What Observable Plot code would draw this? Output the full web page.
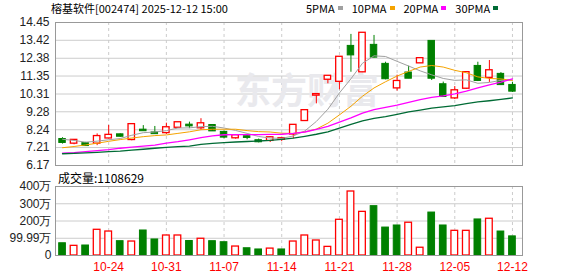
<!DOCTYPE html>
<html><head><meta charset="utf-8">
<script src="https://cdn.jsdelivr.net/npm/d3@7"></script>
<script src="https://cdn.jsdelivr.net/npm/@observablehq/plot@0.6"></script>
<style>
body{margin:0;background:#fff;}
#wrap{position:relative;width:578px;height:276px;overflow:hidden;font-family:"Noto Sans CJK SC",sans-serif;color:#000;}
.abs{position:absolute;white-space:nowrap;}
#legend{display:flex;align-items:center;font-size:11px;line-height:14px;height:14px;}
#legend .it{display:flex;align-items:center;margin-right:9px;}
#legend .sq{display:inline-block;width:5px;height:4px;margin-left:3px;}
svg{position:absolute;left:0;}
</style></head><body><div id="wrap"></div>
<script>
const title = "榕基软件[002474] 2025-12-12 15:00";
const volLabel = "成交量:1108629";
const watermark = "东方财富";
const dates = ["10-20","10-21","10-22","10-23","10-24","10-27","10-28","10-29","10-30","10-31","11-03","11-04","11-05","11-06","11-07","11-10","11-11","11-12","11-13","11-14","11-17","11-18","11-19","11-20","11-21","11-24","11-25","11-26","11-27","11-28","12-01","12-02","12-03","12-04","12-05","12-08","12-09","12-10","12-11","12-12"];
const tickDates = ["10-24","10-31","11-07","11-14","11-21","11-28","12-05","12-12"];
const open  = [7.67,7.47,7.43,7.47,7.77,7.94,7.68,8.21,8.05,8.08,8.39,8.50,8.36,8.48,8.08,7.78,7.83,7.60,7.63,7.69,8.00,8.78,10.25,11.17,11.05,13.06,11.60,13.12,12.02,10.67,11.52,12.12,13.35,10.84,10.09,10.65,11.90,11.28,11.44,10.80];
const close = [7.51,7.62,7.33,7.84,7.91,7.87,8.53,8.19,8.02,8.35,8.64,8.47,8.58,8.18,7.82,7.89,7.80,7.55,7.77,7.72,8.49,9.34,10.27,11.33,12.43,12.58,13.82,12.45,11.20,11.03,11.23,12.35,11.23,10.17,10.49,11.54,11.10,11.65,10.86,10.48];
const high  = [7.78,7.62,7.51,8.00,8.49,8.00,8.53,8.48,8.43,8.62,8.66,8.68,8.88,8.52,8.16,7.96,7.96,7.70,7.85,7.76,8.49,9.34,10.27,11.33,12.48,13.76,13.82,13.70,12.15,11.40,11.92,12.36,13.35,11.00,10.74,11.58,12.15,12.25,11.55,10.99];
const low   = [7.41,7.37,7.27,7.32,7.72,7.80,7.60,8.18,8.00,7.97,8.38,8.30,8.22,8.14,7.72,7.70,7.66,7.48,7.50,7.55,7.72,8.78,9.74,10.90,10.55,11.57,11.55,12.40,11.13,10.48,11.20,12.11,11.09,10.12,9.99,10.57,11.03,10.98,10.80,10.40];
const volume = [71,56,58,149,139,83,81,145,93,116,116,84,97,83,77,52,42,35,40,35,81,116,87,50,207,371,253,286,162,174,190,45,249,174,143,143,209,213,139,110.86];
const volUp = [0,1,0,1,1,0,1,0,0,1,1,0,1,0,0,1,0,0,1,0,1,1,1,1,1,1,1,0,0,0,1,1,0,0,1,1,0,1,0,0];
const ma5  = [7.69,7.62,7.52,7.58,7.66,7.73,7.92,8.07,8.11,8.19,8.34,8.35,8.42,8.44,8.34,8.20,8.03,7.85,7.76,7.74,7.88,8.17,8.72,9.43,10.37,11.19,12.09,12.52,12.48,12.20,11.93,11.65,11.42,11.21,11.10,11.13,10.93,10.98,11.10,11.12];
const ma10 = [7.20,7.27,7.36,7.46,7.57,7.67,7.76,7.84,7.90,7.94,8.03,8.12,8.24,8.27,8.27,8.27,8.19,8.13,8.11,8.04,8.03,8.11,8.28,8.62,9.10,9.60,10.18,10.66,11.02,11.35,11.62,11.87,11.96,11.87,11.68,11.54,11.30,11.21,11.18,11.10];
const ma20 = [6.88,6.91,6.97,7.03,7.09,7.17,7.23,7.29,7.35,7.47,7.55,7.66,7.78,7.88,7.95,7.96,7.96,7.96,7.97,7.98,8.03,8.11,8.26,8.44,8.68,8.93,9.20,9.40,9.54,9.66,9.82,9.98,10.11,10.20,10.32,10.48,10.66,10.84,11.00,11.19];
const ma30 = [6.85,6.87,6.90,6.93,6.97,7.00,7.06,7.11,7.17,7.22,7.26,7.29,7.39,7.45,7.50,7.53,7.56,7.59,7.62,7.68,7.75,7.86,7.98,8.12,8.33,8.55,8.75,8.90,9.00,9.13,9.27,9.38,9.49,9.57,9.64,9.75,9.85,9.92,10.00,10.08];
const maNames = ["5PMA","10PMA","20PMA","30PMA"];
const maColors = ["#a0a0a0","#f5a300","#ff00ff","#006b35"];
const priceTicks = [6.17,7.21,8.24,9.28,10.31,11.35,12.38,13.42,14.45];
const volTicks = [0,99.99,200,300,400];
const volTickLabels = ["0","99.99万","200万","300万","400万"];

const RED = "#ff0000", GREEN = "#008000";
const idx = d3.range(dates.length);
const isUp = i => close[i] >= open[i];
const upIdx = idx.filter(isUp), dnIdx = idx.filter(i => !isUp(i));
const xDomain = [-0.61, 39.87];
const tickIdx = tickDates.map(d => dates.indexOf(d));
const grid = {stroke:"#cccccc", strokeOpacity:1};
const dashed = {stroke:"#cccccc", strokeOpacity:1, strokeDasharray:"3,3"};
const font = "'Liberation Sans', Arial, sans-serif";
const mas = [ma5, ma10, ma20, ma30];
const hw = 0.28;

const price = Plot.plot({
  width:578, height:170, marginTop:22, marginBottom:5, marginLeft:55, marginRight:56,
  style:{fontFamily:font, background:"transparent"},
  x:{domain:xDomain, axis:null},
  y:{domain:[6.17,14.45], axis:null},
  marks:[
    Plot.gridY(priceTicks, grid),
    Plot.gridX(tickIdx, dashed),
    Plot.text([watermark], {text:d=>d, frameAnchor:"middle", dx:18, dy:-2, fontSize:36, fontWeight:700, fill:"#e9e9ed", fontFamily:"'Noto Sans CJK SC'"}),
    Plot.ruleX(upIdx, {x:i=>i, y1:i=>low[i], y2:i=>high[i], stroke:RED}),
    Plot.ruleX(dnIdx, {x:i=>i, y1:i=>low[i], y2:i=>high[i], stroke:GREEN}),
    Plot.rect(upIdx, {x1:i=>i-hw, x2:i=>i+hw, y1:i=>open[i], y2:i=>close[i], fill:"white", stroke:RED, strokeWidth:1.3, insetTop:-0.6, insetBottom:-0.6}),
    Plot.rect(dnIdx, {x1:i=>i-hw, x2:i=>i+hw, y1:i=>open[i], y2:i=>close[i], fill:GREEN, stroke:GREEN, strokeWidth:1, insetTop:-0.6, insetBottom:-0.6}),
    ...mas.map((m,k) => Plot.line(idx, {x:i=>i, y:i=>m[i], stroke:maColors[k], strokeWidth:k<2?1:1.3})),
    Plot.frame({stroke:"#999"})
  ]
});

const priceLabels = Plot.plot({
  width:578, height:176, marginTop:22, marginBottom:11, marginLeft:55, marginRight:56,
  style:{fontFamily:font, background:"transparent"},
  x:{domain:xDomain, axis:null},
  y:{domain:[6.17,14.45], axis:null},
  marks:[
    Plot.text(priceTicks, {y:d=>d, text:d=>d.toFixed(2), frameAnchor:"left", textAnchor:"end", dx:-6, fontSize:12, fill:"#222"})
  ]
});

const vol = Plot.plot({
  width:578, height:106, marginTop:16, marginBottom:21, marginLeft:55, marginRight:56,
  style:{fontFamily:font, background:"transparent"},
  x:{domain:xDomain, axis:null},
  y:{domain:[0,400], axis:null},
  marks:[
    Plot.gridY(volTicks, grid),
    Plot.gridX(tickIdx, dashed),
    Plot.rect(idx.filter(i=>volUp[i]), {x1:i=>i-0.29, x2:i=>i+0.29, y1:()=>0, y2:i=>volume[i], fill:"white", stroke:RED, strokeWidth:1.3}),
    Plot.rect(idx.filter(i=>!volUp[i]), {x1:i=>i-0.29, x2:i=>i+0.29, y1:()=>0, y2:i=>volume[i], fill:GREEN, stroke:GREEN}),
    Plot.frame({stroke:"#999"}),
    Plot.text(volTicks, {y:d=>d, text:d=>volTickLabels[volTicks.indexOf(d)], frameAnchor:"left", textAnchor:"end", dx:-4, fontSize:12, fill:"#222"}),
    Plot.axisX(tickIdx, {tickSize:0, tickPadding:7, fontSize:12, fill:RED, tickFormat:i=>dates[i], label:null})
  ]
});

const wrap = document.getElementById("wrap");
price.style.top = "0px";
wrap.appendChild(price);
vol.style.top = "170px";
wrap.appendChild(vol);

const t = document.createElement("div");
t.className = "abs"; t.textContent = title;
Object.assign(t.style, {left:"51px", top:"1px", fontSize:"11px", lineHeight:"14px", height:"14px"});
wrap.appendChild(t);

const lg = document.createElement("div");
lg.id = "legend"; lg.className = "abs";
Object.assign(lg.style, {left:"306px", top:"1px"});
maNames.forEach((n,k) => {
  const it = document.createElement("span"); it.className = "it";
  const tx = document.createElement("span"); tx.textContent = n;
  const sq = document.createElement("span"); sq.className = "sq"; sq.style.background = maColors[k];
  it.appendChild(tx); it.appendChild(sq); lg.appendChild(it);
});
wrap.appendChild(lg);

const vl = document.createElement("div");
vl.className = "abs"; vl.textContent = volLabel;
Object.assign(vl.style, {left:"58px", top:"170px", fontSize:"12px", lineHeight:"15px", height:"15px"});
wrap.appendChild(vl);

priceLabels.style.top = "0px";
priceLabels.style.zIndex = "5";
priceLabels.style.pointerEvents = "none";
wrap.appendChild(priceLabels);
</script></body></html>
